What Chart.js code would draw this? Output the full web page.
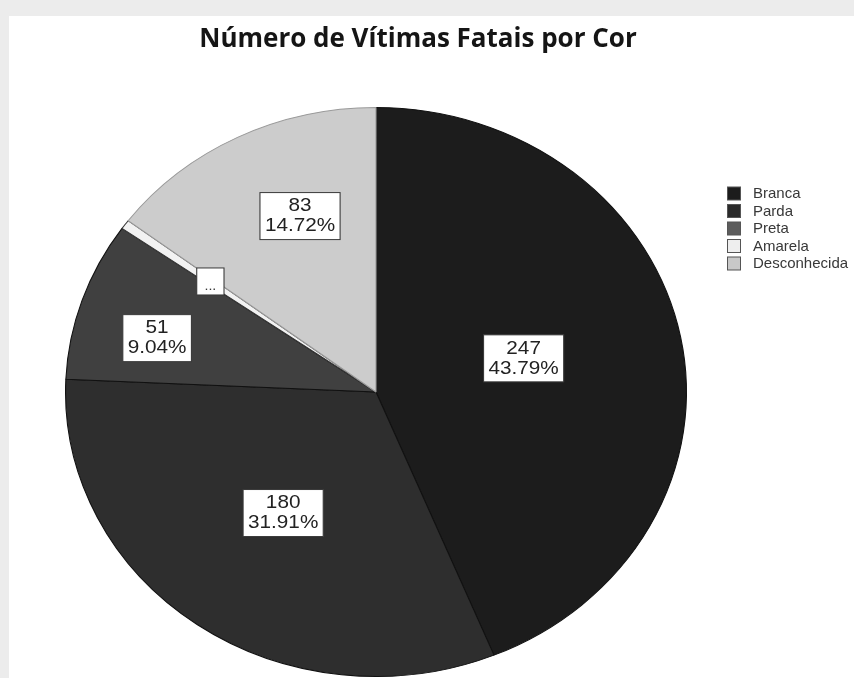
<!DOCTYPE html>
<html><head><meta charset="utf-8">
<script src="https://cdn.jsdelivr.net/npm/chart.js@4.4.1/dist/chart.umd.min.js"></script>
<style>
html,body{margin:0;padding:0;background:#ececec;overflow:hidden;}
#wrap{position:absolute;left:0;top:0;width:854px;height:678px;}
#bg{position:absolute;left:9px;top:16px;width:845px;height:662px;background:#ffffff;}
canvas{position:absolute;left:0;top:0;}
</style></head><body>
<div id="wrap"><div id="bg"></div><canvas id="c" width="854" height="678"></canvas></div>
<script>
// ---- data ----
const categories = ['Branca', 'Parda', 'Preta', 'Amarela', 'Desconhecida'];
const counts = [247, 180, 51, 3, 83];
const titleText = 'Número de Vítimas Fatais por Cor';

// ---- styles ----
const sliceColors = ['#1c1c1c', '#2e2e2e', '#404040', '#f2f2f2', '#cccccc'];
const sliceBorders = ['#111111', '#111111', '#111111', '#333333', '#9a9a9a'];
const legendColors = ['#1c1c1c', '#2a2a2a', '#5c5c5c', '#eeeeee', '#c8c8c8'];
const labelRadius = [0.49, 0.52, 0.73, 0.66, 0.665];
const labelAngleShift = [-2.8, 0, -3.8, 0, 4.9]; // degrees

const total = counts.reduce((a, b) => a + b, 0);
const pctText = counts.map(v => (v / total * 100).toFixed(2) + '%');

const STRETCH = 311 / 285;   // horizontal stretch of the pie (ellipse look)
const TARGET_CX = 376;

const ellipsePlugin = {
  id: 'ellipse',
  beforeDatasetsDraw(chart) {
    const arc = chart.getDatasetMeta(0).data[0];
    const ctx = chart.ctx;
    ctx.save();
    ctx.translate(TARGET_CX, arc.y);
    ctx.scale(STRETCH, 1);
    ctx.translate(-arc.x, -arc.y);
  },
  afterDatasetsDraw(chart) {
    const ctx = chart.ctx;
    const meta = chart.getDatasetMeta(0);
    meta.data.forEach((el, i) => {
      const p = el.getProps(['x', 'y', 'startAngle', 'endAngle', 'outerRadius'], true);
      const mid = (p.startAngle + p.endAngle) / 2 + labelAngleShift[i] * Math.PI / 180;
      const r = p.outerRadius * labelRadius[i];
      const lx = p.x + Math.cos(mid) * r;
      const ly = p.y + Math.sin(mid) * r;
      const small = counts[i] / total < 0.01;
      ctx.save();
      ctx.fillStyle = '#ffffff';
      ctx.strokeStyle = '#3a3a3a';
      ctx.lineWidth = 1;
      if (small) {
        const w = 25, h = 27;
        ctx.fillRect(lx - w / 2, ly - h / 2, w, h);
        ctx.strokeRect(lx - w / 2, ly - h / 2, w, h);
        ctx.fillStyle = '#333';
        ctx.font = '13px "Liberation Sans", Arial, sans-serif';
        ctx.textAlign = 'center';
        ctx.textBaseline = 'alphabetic';
        ctx.fillText('...', lx, ly + 9);
      } else {
        ctx.font = '19px "Liberation Sans", Arial, sans-serif';
        const lines = [String(counts[i]), pctText[i]];
        const tw = Math.max(...lines.map(t => ctx.measureText(t).width));
        const w = tw + 9, h = 47;
        ctx.fillRect(lx - w / 2, ly - h / 2, w, h);
        ctx.strokeRect(lx - w / 2, ly - h / 2, w, h);
        ctx.fillStyle = '#222';
        ctx.textAlign = 'center';
        ctx.textBaseline = 'middle';
        ctx.fillText(lines[0], lx, ly - 10);
        ctx.fillText(lines[1], lx, ly + 10);
      }
      ctx.restore();
    });
    ctx.restore();
  }
};

const legendPlugin = {
  id: 'sideLegend',
  afterDraw(chart) {
    const ctx = chart.ctx;
    ctx.save();
    chart.data.labels.forEach((lab, i) => {
      const cy = 193.5 + i * 17.5;
      ctx.fillStyle = legendColors[i];
      ctx.fillRect(727.5, cy - 6.5, 13, 13);
      ctx.strokeStyle = '#555';
      ctx.lineWidth = 1;
      ctx.strokeRect(727.5, cy - 6.5, 13, 13);
      ctx.fillStyle = '#383838';
      ctx.font = '15px "Liberation Sans", Arial, sans-serif';
      ctx.textAlign = 'left';
      ctx.textBaseline = 'middle';
      ctx.fillText(lab, 753, cy + 0.5);
    });
    ctx.restore();
  }
};

new Chart(document.getElementById('c'), {
  type: 'pie',
  data: {
    labels: categories,
    datasets: [{
      data: counts,
      backgroundColor: sliceColors,
      borderColor: sliceBorders,
      borderWidth: 1,
      hoverOffset: 0,
      offset: 0,
      clip: false
    }]
  },
  options: {
    responsive: false,
    animation: false,
    devicePixelRatio: 1,
    layout: { padding: { left: 100, right: 118, top: 0, bottom: 1 } },
    plugins: {
      legend: { display: false },
      tooltip: { enabled: false },
      title: {
        display: true,
        text: titleText,
        color: '#151515',
        font: { family: '"Liberation Sans Narrow", "Open Sans", sans-serif', size: 26, weight: 'bold', lineHeight: 1.2 },
        padding: { top: 24, bottom: 51.8 }
      }
    }
  },
  plugins: [ellipsePlugin, legendPlugin]
});
</script>
</body></html>
